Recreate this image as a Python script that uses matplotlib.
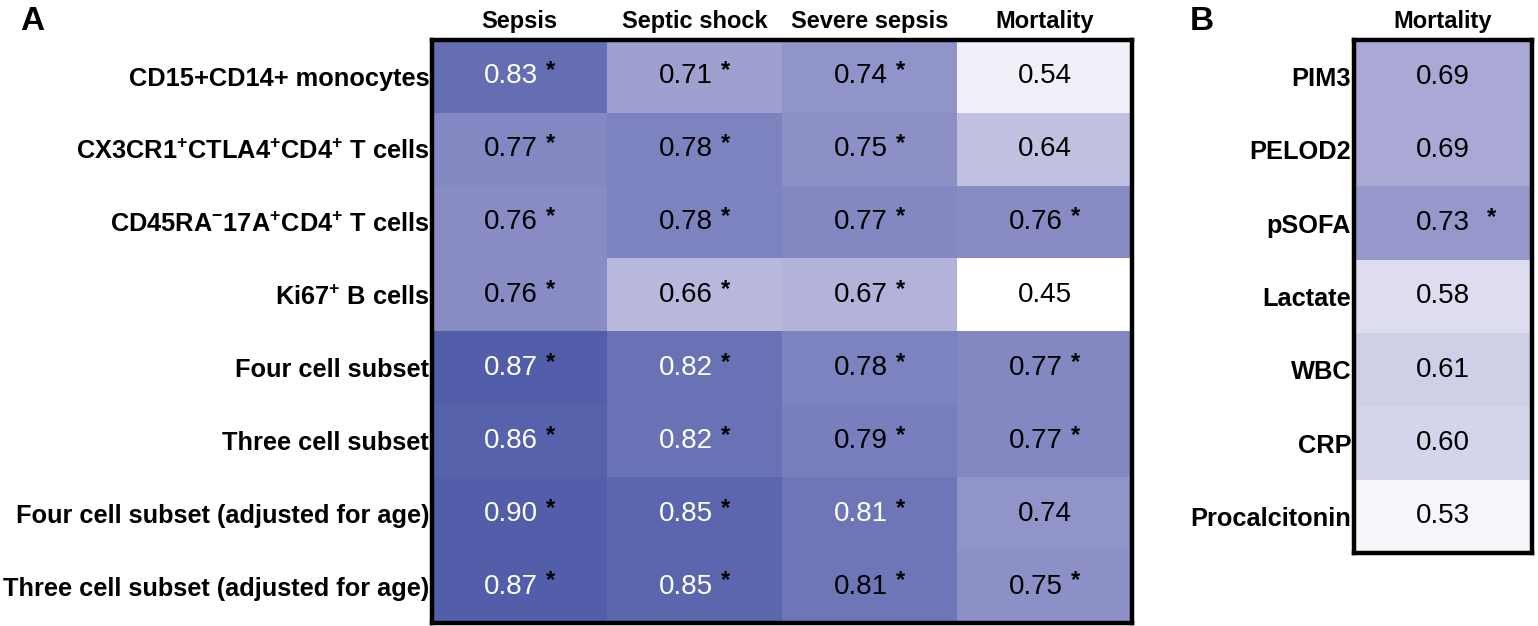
import numpy as np
import matplotlib
matplotlib.use("Agg")
import matplotlib.pyplot as plt
from matplotlib.colors import LinearSegmentedColormap

plt.rcParams['font.family'] = ['Liberation Sans', 'DejaVu Sans']
plt.rcParams['mathtext.fontset'] = 'custom'
plt.rcParams['mathtext.rm'] = 'Liberation Sans:bold'
plt.rcParams['mathtext.bf'] = 'Liberation Sans:bold'
plt.rcParams['mathtext.default'] = 'bf'

# panel A data
a_cols = ['Sepsis', 'Septic shock', 'Severe sepsis', 'Mortality']
a_rows = ['CD15+CD14+ monocytes',
          'CX3CR1$^{+}$CTLA4$^{+}$CD4$^{+}$ T cells',
          'CD45RA$^{-}$17A$^{+}$CD4$^{+}$ T cells',
          'Ki67$^{+}$ B cells',
          'Four cell subset',
          'Three cell subset',
          'Four cell subset (adjusted for age)',
          'Three cell subset (adjusted for age)']
a_vals = np.array([[0.83, 0.71, 0.74, 0.54],
                   [0.77, 0.78, 0.75, 0.64],
                   [0.76, 0.78, 0.77, 0.76],
                   [0.76, 0.66, 0.67, 0.45],
                   [0.87, 0.82, 0.78, 0.77],
                   [0.86, 0.82, 0.79, 0.77],
                   [0.90, 0.85, 0.81, 0.74],
                   [0.87, 0.85, 0.81, 0.75]])
a_sig = np.array([[1, 1, 1, 0],
                  [1, 1, 1, 0],
                  [1, 1, 1, 1],
                  [1, 1, 1, 0],
                  [1, 1, 1, 1],
                  [1, 1, 1, 1],
                  [1, 1, 1, 0],
                  [1, 1, 1, 1]], dtype=bool)
# cells printed in white in the original
a_white = a_vals >= 0.82
a_white[6, 2] = True

# panel B data
b_cols = ['Mortality']
b_rows = ['PIM3', 'PELOD2', 'pSOFA', 'Lactate', 'WBC', 'CRP', 'Procalcitonin']
b_vals = np.array([[0.69], [0.69], [0.73], [0.58], [0.61], [0.60], [0.53]])
b_sig = np.array([[0], [0], [1], [0], [0], [0], [0]], dtype=bool)

cmap = LinearSegmentedColormap.from_list(
    'auc', [(0.0, '#ffffff'), (0.5, '#aaa9d6'), (1.0, '#535eaa')])
vmin, vmax = 0.51, 0.87

W, H = 1538, 626
fig = plt.figure(figsize=(W / 100, H / 100), dpi=100)


def px_axes(x0, y0, x1, y1):
    return fig.add_axes([x0 / W, 1 - y1 / H, (x1 - x0) / W, (y1 - y0) / H])


def draw_heat(ax, vals, sig, white, rows, cols, star_gap, shift):
    nr, nc = vals.shape
    ax.imshow(vals, cmap=cmap, vmin=vmin, vmax=vmax, aspect='auto',
              extent=(-0.5, nc - 0.5, nr - 0.5, -0.5), interpolation='nearest')
    for i in range(nr):
        for j in range(nc):
            col = 'white' if white[i, j] else 'black'
            t = ax.text(j - (shift if sig[i, j] else 0), i,
                        '%.2f' % vals[i, j], ha='center', va='center',
                        fontsize=20, color=col)
            if sig[i, j]:
                ax.annotate('*', xy=(1, 1), xycoords=t,
                            xytext=(star_gap, 3), textcoords='offset points',
                            ha='left', va='top', fontsize=17,
                            fontweight='bold', color='black')
    ax.set_xticks(range(nc))
    ax.set_xticklabels(cols, fontsize=17, fontweight='bold')
    ax.xaxis.tick_top()
    ax.set_yticks(range(nr))
    ax.set_yticklabels(rows, fontsize=18.3, fontweight='bold')
    ax.tick_params(length=0, pad=2)
    ax.tick_params(axis='x', pad=5)
    for s in ax.spines.values():
        s.set_linewidth(3.2)
        s.set_color('black')


ax_a = px_axes(432, 40, 1132, 623)
draw_heat(ax_a, a_vals, a_sig, a_white, a_rows, a_cols, star_gap=6, shift=0.05)

ax_b = px_axes(1354, 40, 1532, 553)
draw_heat(ax_b, b_vals, b_sig, np.zeros_like(b_sig), b_rows, b_cols,
          star_gap=12, shift=0)

fig.text(20 / W, 1 - 22 / H, 'A', fontsize=24, fontweight='bold', va='center')
fig.text(1190 / W, 1 - 22 / H, 'B', fontsize=24, fontweight='bold', va='center')

fig.savefig('out.png', dpi=100)
